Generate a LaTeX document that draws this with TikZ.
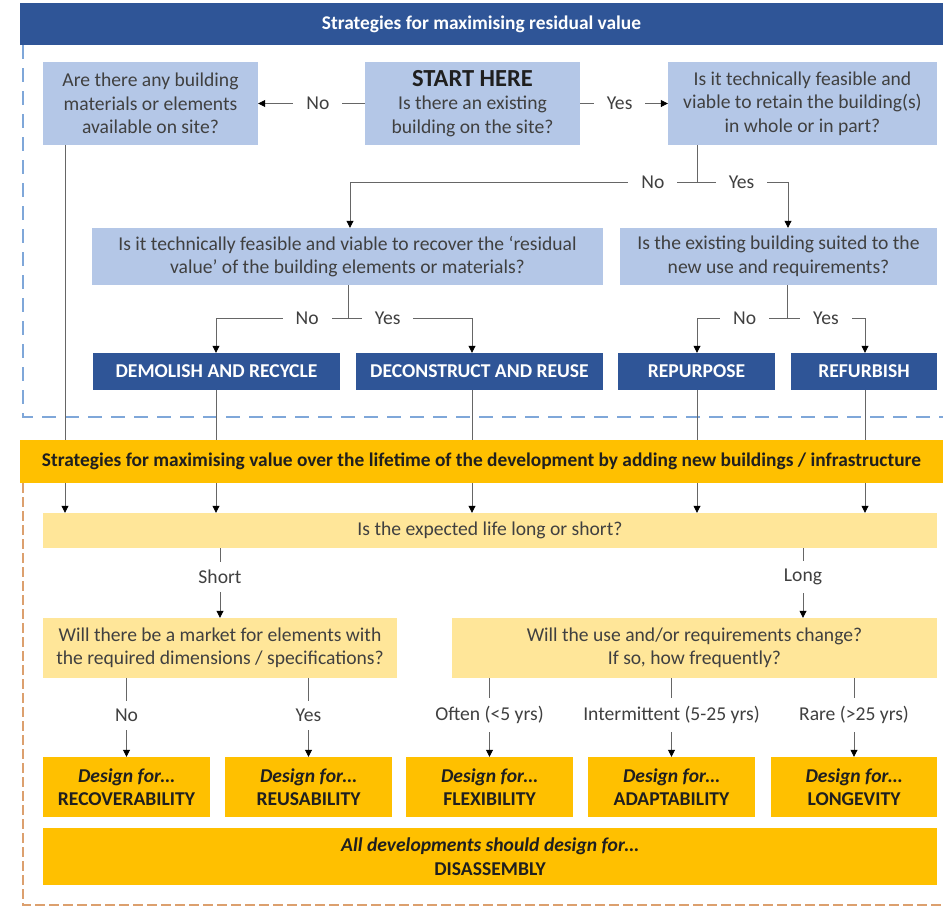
\documentclass[tikz,border=0pt]{standalone}
\usepackage{fontspec}
\setmainfont{Carlito}
\usetikzlibrary{arrows.meta,positioning,calc}
\definecolor{navyRV}{HTML}{2F5597}
\definecolor{paleRV}{HTML}{B4C7E7}
\definecolor{amberLV}{HTML}{FFC000}
\definecolor{creamLV}{HTML}{FFE699}
\definecolor{dashRV}{HTML}{7FA7D9}
\definecolor{dashLV}{HTML}{DCA06E}
\colorlet{InkGrey}{black!75}
\colorlet{InkDark}{black!88}
\colorlet{LineGrey}{black!60}
\newcommand{\bodyfont}{\fontsize{19.6}{23.5}\selectfont}
\tikzset{
  qbox/.style={fill=paleRV, text=InkGrey, align=center, inner sep=0pt, font=\bodyfont},
  lifebox/.style={fill=creamLV, text=InkGrey, align=center, inner sep=0pt, font=\bodyfont},
  outbox/.style={fill=navyRV, text=white, align=center, inner sep=0pt, font=\bodyfont\bfseries, minimum height=37},
  designbox/.style={fill=amberLV, text=InkDark, align=center, inner sep=0pt, font=\bodyfont\bfseries, minimum height=60, minimum width=167},
  navybar/.style={fill=navyRV, text=white, inner sep=0pt, font=\fontsize{19.4}{22}\selectfont\bfseries, minimum width=923, minimum height=42},
  amberbar/.style={fill=amberLV, text=InkDark, inner sep=0pt, font=\fontsize{19.4}{22}\selectfont\bfseries, minimum width=923, minimum height=43},
  conn/.style={draw=LineGrey, line width=0.8pt},
  arr/.style={conn, -{Triangle[length=7pt,width=7pt,color=black]}},
  lbl/.style={fill=white, text=InkGrey, font=\bodyfont, inner xsep=13pt, inner ysep=8pt},
  frameRV/.style={draw=dashRV, line width=1.3pt, dash pattern=on 14pt off 9pt},
  frameLV/.style={draw=dashLV, line width=1.3pt, dash pattern=on 10pt off 4pt}
}
\begin{document}
\begin{tikzpicture}[x=1pt,y=-1pt]
  \useasboundingbox (0,0) rectangle (943,908);
  % dashed frames
  \draw[frameRV] (23,45) -- (23,417) -- (943,417);
  \draw[frameLV] (23,483) -- (23,905) -- (943,905);

  % residual value
  \node[navybar] (head1) at (481.5,24) {Strategies for maximising residual value};
  \node[qbox, minimum width=215, minimum height=83] (leftq) at (150.5,103.5)
    {Are there any building\\materials or elements\\available on site?};
  \node[qbox, minimum width=215, minimum height=83] (startq) at (472.5,103.5)
    {{\color{InkDark}\fontsize{24.5}{23.5}\selectfont\bfseries START HERE}\\Is there an existing\\building on the site?};
  \node[qbox, minimum width=269, minimum height=83] (rightq) at (802.5,103.5)
    {Is it technically feasible and\\viable to retain the building(s)\\in whole or in part?};
  \node[qbox, minimum width=511, minimum height=57] (recq) at (347.5,256.5)
    {Is it technically feasible and viable to recover the `residual\\value' of the building elements or materials?};
  \node[qbox, minimum width=317, minimum height=57] (suitq) at (778.5,256.5)
    {Is the existing building suited to the\\new use and requirements?};
  \node[outbox, minimum width=247] (demolish) at (216.5,371.5) {DEMOLISH AND RECYCLE};
  \node[outbox, minimum width=247] (deconstruct) at (479.5,371.5) {DECONSTRUCT AND REUSE};
  \node[outbox, minimum width=157] (repurpose) at (696.5,371.5) {REPURPOSE};
  \node[outbox, minimum width=146] (refurbish) at (864,371.5) {REFURBISH};

  \draw[arr] (startq) -- node[lbl,pos=.44]{No} (leftq);
  \draw[arr] (startq) -- node[lbl,pos=.45]{Yes} (rightq);

  \coordinate (j1) at (697,182);
  \coordinate (k1) at (350,182);
  \coordinate (k2) at (788,182);
  \draw[conn] (rightq.south -| j1) -- (j1);
  \draw[arr] (j1) -- node[lbl,pos=.127]{No} (k1) -- (recq.north -| k1);
  \draw[arr] (j1) -- node[lbl,pos=.49]{Yes} (k2) -- (suitq.north -| k2);

  \coordinate (j2) at (348,318);
  \coordinate (c2) at (216,318);
  \coordinate (c3) at (472,318);
  \draw[conn] (recq.south -| j2) -- (j2);
  \draw[arr] (j2) -- node[lbl,pos=.31]{No} (c2) -- (demolish.north -| c2);
  \draw[arr] (j2) -- node[lbl,pos=.32]{Yes} (c3) -- (deconstruct.north -| c3);

  \coordinate (j3) at (787,318);
  \coordinate (c4) at (697,318);
  \coordinate (c5) at (865,318);
  \draw[conn] (suitq.south -| j3) -- (j3);
  \draw[arr] (j3) -- node[lbl,pos=.47]{No} (c4) -- (repurpose.north -| c4);
  \draw[arr] (j3) -- node[lbl,pos=.5]{Yes} (c5) -- (refurbish.north -| c5);

  % lifetime value
  \node[amberbar] (head2) at (481.5,461.5)
    {Strategies for maximising value over the lifetime of the development by adding new buildings / infrastructure};
  \node[lifebox, minimum width=894, minimum height=35] (lifeq) at (490,530.5)
    {Is the expected life long or short?};
  \coordinate (c1) at (65,0);
  \foreach \src/\col in {leftq/c1, demolish/c2, deconstruct/c3, repurpose/c4, refurbish/c5}{
    \draw[conn] (\src.south -| \col) -- (head2.north -| \col);
    \draw[arr] (head2.south -| \col) -- (lifeq.north -| \col);
  }

  \node[lifebox, minimum width=354, minimum height=60] (marketq) at (220,648)
    {Will there be a market for elements with\\the required dimensions / specifications?};
  \node[lifebox, minimum width=485, minimum height=60] (useq) at (694.5,648)
    {Will the use and/or requirements change?\\If so, how frequently?};
  \coordinate (cl) at (803,0);
  \draw[arr] (lifeq.south -| marketq) -- node[lbl,pos=.41]{Short} (marketq);
  \draw[arr] (lifeq.south -| cl) -- node[lbl,pos=.41]{Long} (useq.north -| cl);

  \node[designbox] (recov) at (126.5,787) {\textit{Design for\ldots}\\RECOVERABILITY};
  \node[designbox] (reuse) at (308.5,787) {\textit{Design for\ldots}\\REUSABILITY};
  \node[designbox] (flex) at (489.5,787) {\textit{Design for\ldots}\\FLEXIBILITY};
  \node[designbox] (adapt) at (671.5,787) {\textit{Design for\ldots}\\ADAPTABILITY};
  \node[designbox, minimum width=166] (longev) at (854,787) {\textit{Design for\ldots}\\LONGEVITY};
  \node[designbox, minimum width=894, minimum height=57] (disasm) at (490,856.5)
    {\textit{All developments should design for\ldots}\\DISASSEMBLY};

  \draw[arr] (marketq.south -| recov) -- node[lbl,pos=.47]{No} (recov);
  \draw[arr] (marketq.south -| reuse) -- node[lbl,pos=.47]{Yes} (reuse);
  \draw[arr] (useq.south -| flex) -- node[lbl,pos=.47]{Often (<5 yrs)} (flex);
  \draw[arr] (useq.south -| adapt) -- node[lbl,pos=.47]{Intermittent (5-25 yrs)} (adapt);
  \draw[arr] (useq.south -| longev) -- node[lbl,pos=.47]{Rare (>25 yrs)} (longev);
\end{tikzpicture}
\end{document}
